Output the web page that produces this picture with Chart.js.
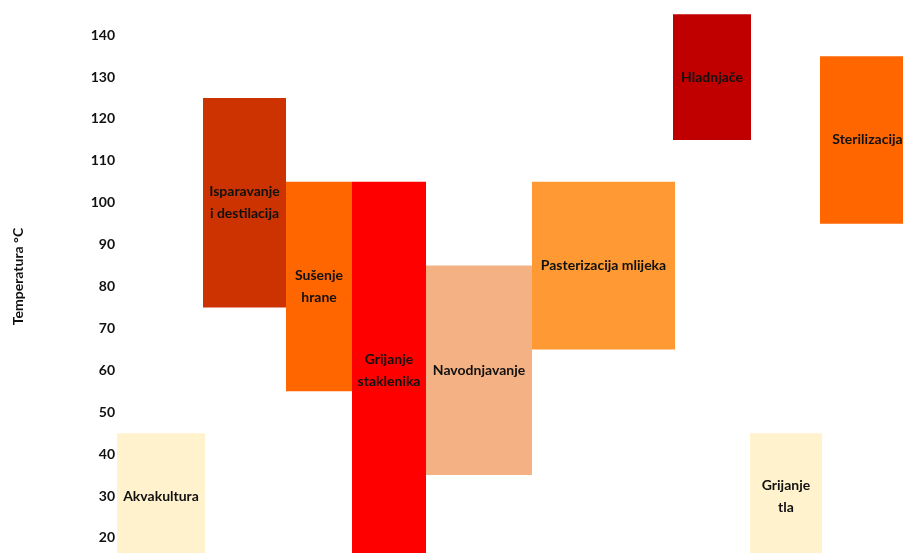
<!DOCTYPE html>
<html lang="hr">
<head>
  <meta charset="UTF-8" />
  <title>Temperatura primjene</title>
  <script src="https://cdn.jsdelivr.net/npm/chart.js"></script>
  <style>
    html, body { margin: 0; padding: 0; background: #fff; }
    .wrap { width: 903px; height: 553px; }
  </style>
</head>
<body>
  <div class="wrap"><canvas id="graf"></canvas></div>

  <script>
    // podaci (x u relativnim jedinicama, y u °C)
    const nazivi = ['Akvakultura', 'Isparavanje\ni destilacija', 'Sušenje\nhrane', 'Grijanje\nstaklenika',
                    'Navodnjavanje', 'Pasterizacija mlijeka', 'Hladnjače', 'Grijanje\ntla', 'Sterilizacija'];
    const xOd = [0, 86, 169, 235, 309, 415, 556, 633, 703];
    const xDo = [88, 169, 235, 309, 415, 558, 634, 705, 798];
    const tMin = [15, 75, 55, 15, 35, 65, 115, 15, 95];
    const tMax = [45, 125, 105, 105, 85, 105, 145, 45, 135];
    const boje = ['#FFF2CC', '#CC3300', '#FF6600', '#FF0000', '#F4B183', '#FF9933', '#C00000', '#FFF2CC', '#FF6600'];
    const yOznake = [20, 30, 40, 50, 60, 70, 80, 90, 100, 110, 120, 130, 140];

    const skupovi = nazivi.map((n, i) => ({
      label: n,
      data: [{ x: xOd[i], y: tMax[i] }, { x: xDo[i], y: tMax[i] }],
      fill: { value: tMin[i] },
      backgroundColor: boje[i],
      borderWidth: 0,
      pointRadius: 0,
      tension: 0
    }));

    // natpisi u sredini pravokutnika
    const natpisi = {
      id: 'natpisi',
      afterDatasetsDraw(chart) {
        const ctx = chart.ctx;
        const sx = chart.scales.x, sy = chart.scales.y;
        ctx.save();
        ctx.font = 'bold 14px Lato';
        ctx.fillStyle = '#111';
        ctx.textAlign = 'center';
        ctx.textBaseline = 'middle';
        nazivi.forEach((n, i) => {
          const cx = sx.getPixelForValue((xOd[i] + xDo[i]) / 2);
          const cy = sy.getPixelForValue((tMin[i] + tMax[i]) / 2);
          const redovi = n.split('\n');
          redovi.forEach((r, j) => {
            ctx.fillText(r, cx, cy + (j - (redovi.length - 1) / 2) * 22);
          });
        });
        ctx.restore();
      }
    };

    new Chart(document.getElementById('graf'), {
      type: 'line',
      data: { datasets: skupovi },
      plugins: [natpisi],
      options: {
        responsive: true,
        maintainAspectRatio: false,
        animation: false,
        layout: { padding: 0 },
        plugins: { legend: { display: false }, tooltip: { enabled: false } },
        scales: {
          x: { type: 'linear', min: 0, max: 786, display: false },
          y: {
            min: 16.4,
            max: 148.4,
            grid: { display: false, drawTicks: false, tickLength: 0 },
            border: { display: false },
            afterBuildTicks: s => { s.ticks = yOznake.map(v => ({ value: v })); },
            afterFit: s => { s.width = 117; s.paddingTop = 0; s.paddingBottom = 0; },
            ticks: { color: '#111', font: { family: 'Lato', weight: 'bold', size: 14 }, padding: 2 },
            title: {
              display: true,
              text: 'Temperatura °C',
              color: '#111',
              font: { family: 'Lato', weight: 'bold', size: 14 },
              padding: { top: 10, bottom: 4 }
            }
          }
        }
      }
    });
  </script>
</body>
</html>
